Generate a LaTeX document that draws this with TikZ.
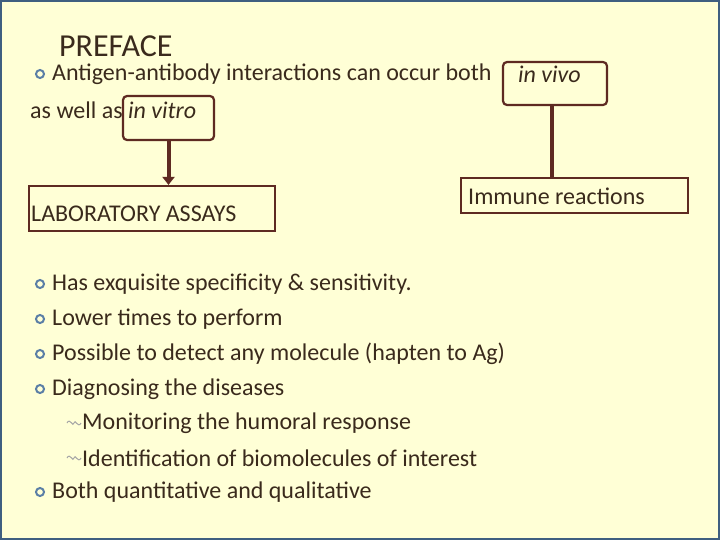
\documentclass[tikz,border=0pt]{standalone}
\usepackage{fontspec}
\setmainfont{Carlito}
\usetikzlibrary{arrows.meta}
\begin{document}
\begin{tikzpicture}[x=1pt,y=-1pt,
  txt/.style={anchor=west,inner sep=0pt,text=tbrown,font=\fontsize{24}{28}\selectfont},
  bul/.style={draw=bblue,line width=2pt,circle,inner sep=0pt,minimum size=8pt},
  rbox/.style={draw=dbrown,line width=2.2pt,rounded corners=4pt},
  sbox/.style={draw=dbrown,line width=2.2pt},
  conn/.style={draw=dbrown,line width=4pt}]
\definecolor{bg}{HTML}{FFFFD6}
\definecolor{bblue}{HTML}{5B7FA6}
\definecolor{tbrown}{HTML}{3A2A1C}
\definecolor{dbrown}{HTML}{5E2A22}
\definecolor{frame}{HTML}{3F5F80}
\fill[bg] (0,0) rectangle (720,540);
\draw[frame,line width=2pt] (1,1) rectangle (719,539);
\useasboundingbox (0,0) rectangle (720,540);
\node[txt,font=\fontsize{32}{36}\selectfont] (pre) at (59,46) {PREFACE};
\node[bul] (b0) at (40,74) {};
\node[txt] (l1) at (52,74) {Antigen-antibody interactions can occur both};
\node[rbox,minimum width=104pt,minimum height=43pt] (vivo) at (555,83.5) {};
\node[txt,font=\fontsize{24}{28}\selectfont\itshape] (vivot) at (518,74) {in vivo};
\node[txt] (l2) at (30,110) {as well as};
\node[rbox,minimum width=91pt,minimum height=44pt] (vitro) at (168.5,118) {};
\node[txt,font=\fontsize{24}{28}\selectfont\itshape] (vitrot) at (128,110) {in vitro};
\node[sbox,minimum width=246pt,minimum height=45pt] (lab) at (152,208.5) {};
\node[txt] (labt) at (31,214) {LABORATORY ASSAYS};
\node[sbox,minimum width=227pt,minimum height=35pt] (imm) at (574.5,195.5) {};
\node[txt] (immt) at (468,196) {Immune reactions};
\draw[conn,-{Triangle[width=12pt,length=8pt]}] (vitro.south) -- (lab.north -| vitro.south);
\coordinate (c1) at (552,105);
\draw[conn] (c1) -- (c1 |- imm.north);
\foreach \y/\t [count=\i] in {284/{Has exquisite specificity \& sensitivity.},319/{Lower times to perform},354/{Possible to detect any molecule (hapten to Ag)},389/{Diagnosing the diseases},492/{Both quantitative and qualitative}}{
  \node[bul] (p\i) at (40,\y) {};
  \node[txt] (q\i) at (52,\y) {\t};
}
\foreach \y/\t [count=\i] in {423/{Monitoring the humoral response},458/{Identification of biomolecules of interest}}{
  \node[inner sep=0pt] (s\i) at (74,\y) {};
  \draw[gray!70,line width=1pt] (67,\y) .. controls (70,\y-6) and (73,\y+5) .. (74,\y) .. controls (75,\y-5) and (78,\y+6) .. (81,\y);
  \node[txt] (r\i) at (82,\y) {\t};
}
\end{tikzpicture}
\end{document}
